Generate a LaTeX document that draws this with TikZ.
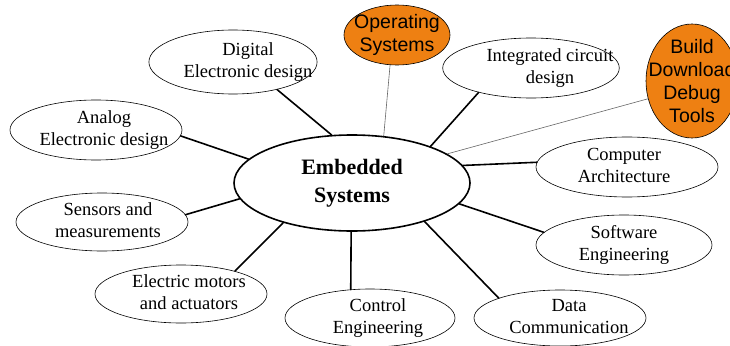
\documentclass[tikz,border=0pt]{standalone}
\usepackage{fontspec}
\setmainfont{Liberation Serif}
\newfontfamily\arialfont{Liberation Sans}
\usetikzlibrary{shapes.geometric}
\definecolor{osorange}{RGB}{238,128,18}
% two centred lines, moved right by half of #1
\newcommand\twoline[3]{\hspace*{#1}\begin{tabular}{@{}c@{}}#2\\#3\end{tabular}}
\begin{document}
\begin{tikzpicture}[x=1pt,y=-1pt,line cap=round,line join=round,
  topic/.style={ellipse,draw,line width=0.6pt,inner sep=-20pt,font=\fontsize{18.5}{22}\selectfont},
  tool/.style={ellipse,draw,line width=0.6pt,fill=osorange,inner sep=-20pt,align=center,font=\arialfont\fontsize{19.5}{23}\selectfont},
  spoke/.style={line width=1.6pt},
  thin spoke/.style={line width=0.6pt,gray!80!black}]
  \useasboundingbox (0,0) rectangle (730,345);
  \clip (0,0) rectangle (730,345);
  % hub
  \node[ellipse,draw,line width=1.6pt,minimum width=236pt,minimum height=96pt,inner sep=-20pt,align=center,font=\bfseries\fontsize{22}{28}\selectfont] (es) at (352,183) {Embedded\\Systems};
  % topics
  \node[topic,minimum width=160pt,minimum height=64pt] (dig) at (233,62) {\twoline{30pt}{Digital}{Electronic design}};
  \node[topic,minimum width=168pt,minimum height=60pt] (ic) at (531,68) {\twoline{38pt}{Integrated circuit}{design}};
  \node[topic,minimum width=172pt,minimum height=60pt] (ana) at (96,130) {\twoline{16pt}{Analog}{Electronic design}};
  \node[topic,minimum width=182pt,minimum height=60pt] (ca) at (627,167) {\twoline{-6pt}{Computer}{Architecture}};
  \node[topic,minimum width=172pt,minimum height=58pt] (sen) at (102,222) {\twoline{12pt}{Sensors and}{measurements}};
  \node[topic,minimum width=176pt,minimum height=60pt] (sw) at (624,245) {\twoline{0pt}{Software}{Engineering}};
  \node[topic,minimum width=172pt,minimum height=58pt] (mot) at (181,294) {\twoline{16pt}{Electric motors}{and actuators}};
  \node[topic,minimum width=170pt,minimum height=58pt] (ctl) at (370,318) {\twoline{16pt}{Control}{Engineering}};
  \node[topic,minimum width=172pt,minimum height=56pt] (dat) at (560,318) {\twoline{18pt}{Data}{Communication}};
  % tools
  \node[tool,minimum width=106pt,minimum height=60pt] (os) at (397,35) {Operating\\Systems};
  \node[tool,minimum width=92pt,minimum height=114pt] (bdd) at (692,81) {Build\\Download\\Debug\\Tools};
  % spokes: hub angle / topic angle
  \foreach \a/\t/\b in {113.5/dig/-32,25.4/ic/-155.6,167/ana/-4,9.7/ca/177.5,-172/sen/5,
                        -11.2/sw/171.7,-150/mot/23,-91/ctl/124,-28.2/dat/162}{
    \draw[spoke] (es.\a) -- (\t.\b);}
  \draw[thin spoke] (es.56.6) -- (os.-103);
  \draw[thin spoke] (es.17.6) -- (bdd.-158);
\end{tikzpicture}
\end{document}
